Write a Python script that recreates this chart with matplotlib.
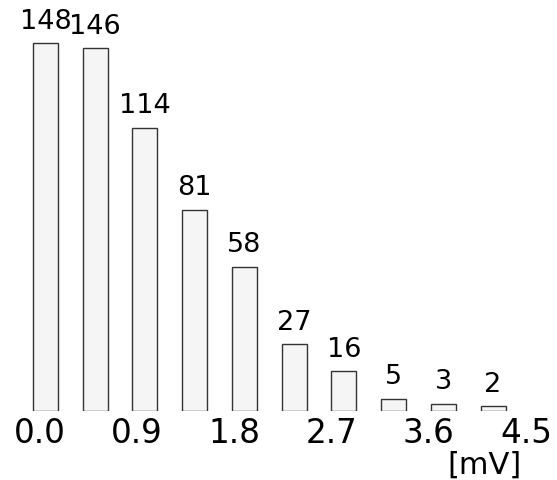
import numpy as np
import matplotlib
matplotlib.use('Agg')
import matplotlib.pyplot as plt

# 每个区间的计数（区间宽度约 0.46 mV）
counts = [148, 146, 114, 81, 58, 27, 16, 5, 3, 2]
bin_step = 0.46
tick_values = [0.0, 0.9, 1.8, 2.7, 3.6, 4.5]
tick_labels = ['0.0', '0.9', '1.8', '2.7', '3.6', '4.5']
unit_label = '[mV]'

plt.rcParams['font.family'] = ['DejaVu Sans']

fig = plt.figure(figsize=(5.57, 4.8), dpi=100)
# 坐标轴底边即柱子的底边
ax = fig.add_axes([0, 69 / 480, 1, 411 / 480])

x = np.arange(len(counts)) * bin_step + 0.0555
ax.bar(x, counts, width=0.231, color='#f5f5f5', edgecolor='#333333', linewidth=1.0)

for xi, c in zip(x, counts):
    ax.annotate(str(c), (xi, c), xytext=(0, 6), textcoords='offset points',
                ha='center', va='bottom', fontsize=19.5)

ax.set_xlim(-0.365, 4.787)
ax.set_ylim(0, 165.3)
ax.set_xticks(tick_values)
ax.set_xticklabels(tick_labels, fontsize=23.5)
ax.tick_params(axis='x', length=0, pad=4)
ax.set_yticks([])
for s in ax.spines.values():
    s.set_visible(False)

fig.text(485 / 557, 1 - 465 / 480, unit_label, ha='center', va='center', fontsize=22)

fig.savefig('out.png', dpi=100)
